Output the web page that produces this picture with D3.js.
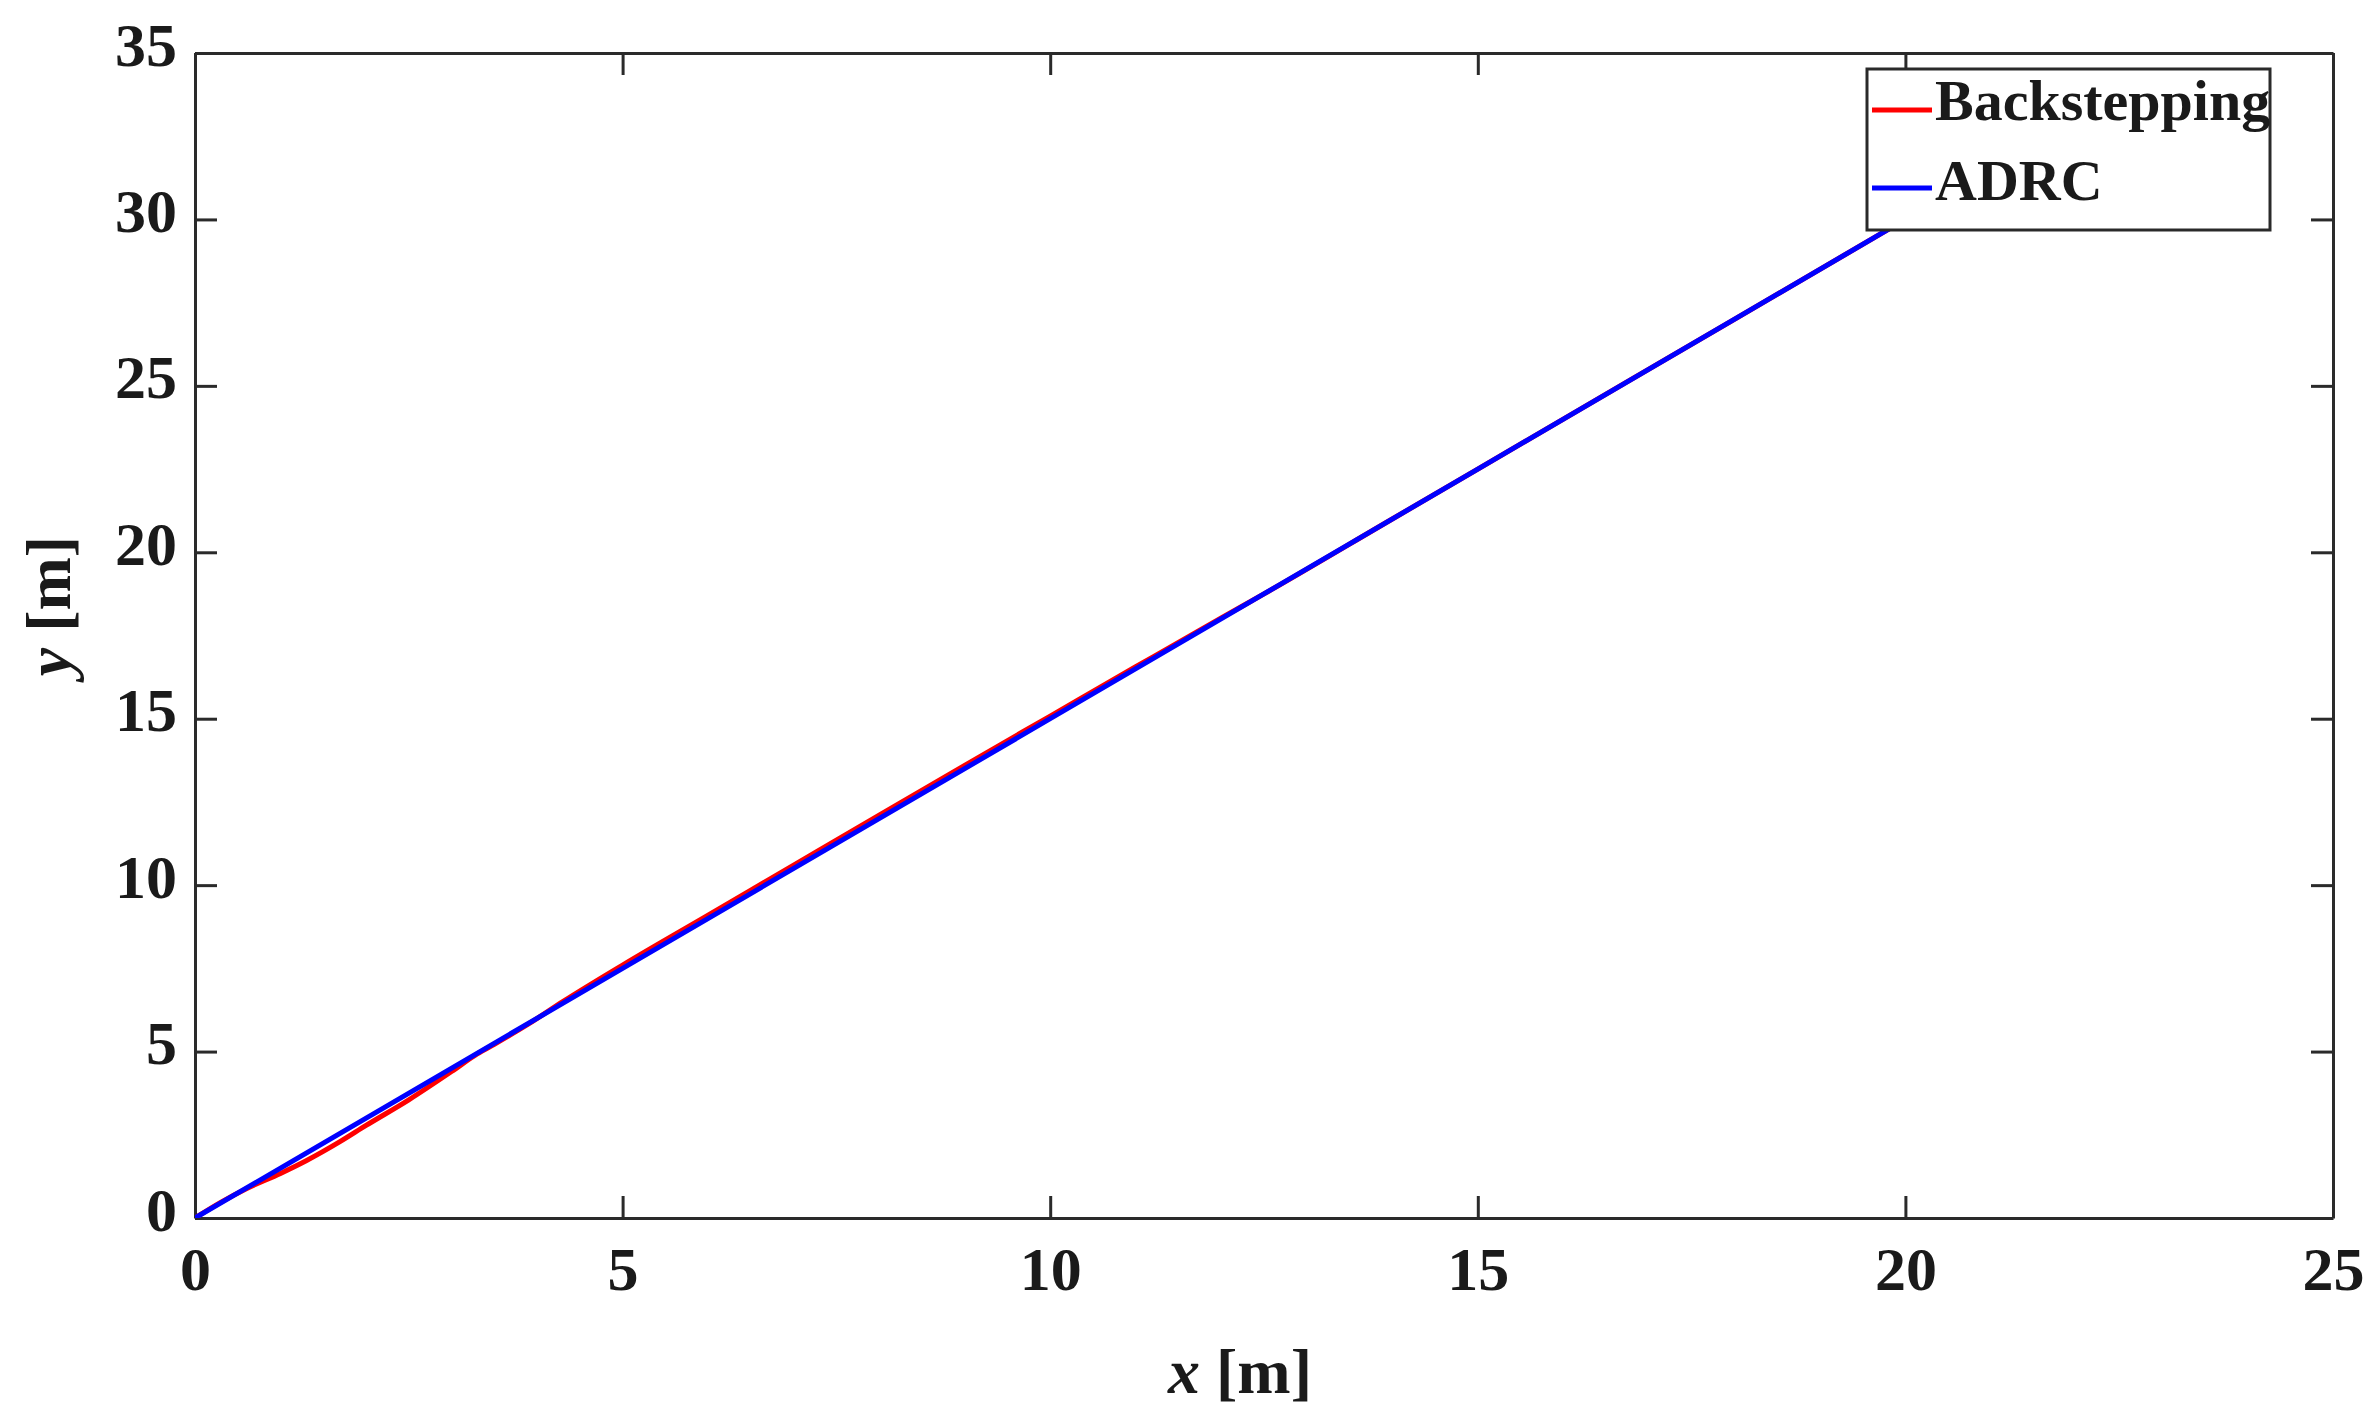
<!DOCTYPE html>
<html>
<head>
<meta charset="utf-8">
<script src="https://cdn.jsdelivr.net/npm/d3@7"></script>
<style>
  html, body { margin: 0; padding: 0; background: #fff; }
  svg { display: block; }
  text { font-family: "Liberation Serif", "Times New Roman", serif; font-weight: bold; fill: #1a1a1a; }
</style>
</head>
<body>
<svg id="chart" width="2374" height="1411"></svg>
<script>
// ---- Data ----
const seriesNames = ["Backstepping", "ADRC"];
const seriesColors = ["#ff0000", "#0000ff"];

const backX = [0, 0.3, 0.6, 1.0, 1.3, 1.7, 2.0, 2.5, 3.0, 3.3, 3.5, 3.9, 4.3, 5, 6, 7, 8, 9, 10, 11, 12, 12.5, 14, 16, 18, 20];
const backY = [0, 0.47, 0.88, 1.34, 1.72, 2.3, 2.78, 3.55, 4.4, 4.93, 5.22, 5.83, 6.5, 7.6, 9.1, 10.6, 12.1, 13.6, 15.08, 16.56, 18.03, 18.75, 21, 24, 27, 30];

const adrcX = [0, 5, 10, 15, 20];
const adrcY = [0, 7.5, 15, 22.5, 30];

const xTicks = [0, 5, 10, 15, 20, 25];
const yTicks = [0, 5, 10, 15, 20, 25, 30, 35];
const xLabel = "x";
const yLabel = "y";
const unitLabel = " [m]";

// ---- Layout ----
const L = 195, R = 2333, T = 53, B = 1218;
const svg = d3.select("#chart");

const x = d3.scaleLinear().domain([0, 25]).range([L, R]);
const y = d3.scaleLinear().domain([0, 35]).range([B, T]);

const axisColor = "#2a2a2a";
const tickLen = 22;

function styleAxis(g) {
  g.selectAll(".domain").attr("stroke", axisColor).attr("stroke-width", 3);
  g.selectAll(".tick line").attr("stroke", axisColor).attr("stroke-width", 3);
}

// Bottom axis
const gB = svg.append("g").attr("transform", `translate(0,${B})`)
  .call(d3.axisBottom(x).tickValues(xTicks).tickFormat(d3.format("d")).tickSizeInner(-tickLen).tickSizeOuter(0));
gB.selectAll("text").attr("dy", null).attr("y", 72).attr("font-size", 62)
  .attr("font-family", "Liberation Serif, serif").attr("fill", "#1a1a1a");
styleAxis(gB);

// Left axis
const gL = svg.append("g").attr("transform", `translate(${L},0)`)
  .call(d3.axisLeft(y).tickValues(yTicks).tickFormat(d3.format("d")).tickSizeInner(-tickLen).tickSizeOuter(0));
gL.selectAll("text").attr("dy", null).attr("x", -18).attr("y", 12).attr("font-size", 62)
  .attr("font-family", "Liberation Serif, serif").attr("fill", "#1a1a1a");
styleAxis(gL);

// Top axis (mirror)
const gT = svg.append("g").attr("transform", `translate(0,${T})`)
  .call(d3.axisTop(x).tickValues(xTicks).tickFormat("").tickSizeInner(-tickLen).tickSizeOuter(0));
styleAxis(gT);

// Right axis (mirror)
const gR = svg.append("g").attr("transform", `translate(${R},0)`)
  .call(d3.axisRight(y).tickValues(yTicks).tickFormat("").tickSizeInner(-tickLen).tickSizeOuter(0));
styleAxis(gR);

// Clip
svg.append("clipPath").attr("id", "clip").append("rect")
  .attr("x", L).attr("y", T).attr("width", R - L).attr("height", B - T);

const line = d3.line().x(d => x(d[0])).y(d => y(d[1])).curve(d3.curveMonotoneX);

const backData = backX.map((v, i) => [v, backY[i]]);
const adrcData = adrcX.map((v, i) => [v, adrcY[i]]);

const plot = svg.append("g").attr("clip-path", "url(#clip)");
plot.append("path").datum(backData).attr("d", line)
  .attr("fill", "none").attr("stroke", seriesColors[0]).attr("stroke-width", 5).attr("stroke-linejoin", "round");
plot.append("path").datum(adrcData).attr("d", d3.line().x(d => x(d[0])).y(d => y(d[1])))
  .attr("fill", "none").attr("stroke", seriesColors[1]).attr("stroke-width", 5).attr("stroke-linejoin", "round");

// Axis labels
const xl = svg.append("text").attr("x", 1240).attr("y", 1393).attr("text-anchor", "middle").attr("font-size", 64);
xl.append("tspan").attr("font-style", "italic").text(xLabel);
xl.append("tspan").text(unitLabel);

const yl = svg.append("text").attr("transform", "translate(70,606) rotate(-90)").attr("text-anchor", "middle").attr("font-size", 64);
yl.append("tspan").attr("font-style", "italic").text(yLabel);
yl.append("tspan").text(unitLabel);

// Legend
const lg = svg.append("g");
lg.append("rect").attr("x", 1867).attr("y", 69).attr("width", 403).attr("height", 161)
  .attr("fill", "#fff").attr("stroke", axisColor).attr("stroke-width", 3);
const legY = [110, 188];
const legBase = [120, 200];
seriesNames.forEach((name, i) => {
  lg.append("line").attr("x1", 1872).attr("x2", 1932).attr("y1", legY[i]).attr("y2", legY[i])
    .attr("stroke", seriesColors[i]).attr("stroke-width", 5);
  lg.append("text").attr("x", 1935).attr("y", legBase[i]).attr("font-size", 58).text(name);
});
</script>
</body>
</html>
